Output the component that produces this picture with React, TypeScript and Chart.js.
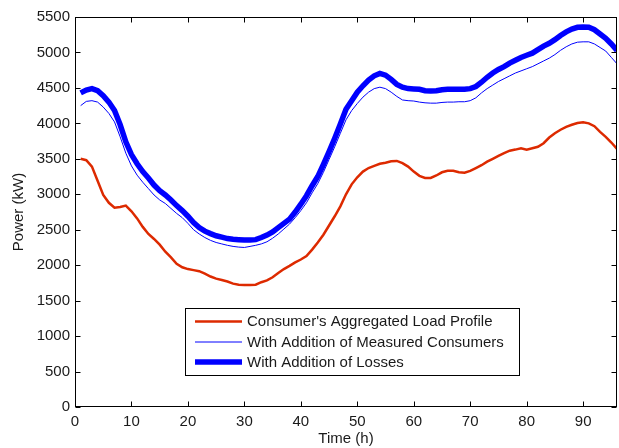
import React, { useEffect, useRef } from "react";
import { Chart, registerables } from "chart.js";

Chart.register(...registerables);

const hours: number[] = Array.from({ length: 96 }, (_, i) => i + 1);

const loadProfile: number[] = [
  3500, 3480, 3390, 3190, 2990, 2880, 2810, 2820, 2840, 2760,
  2660, 2540, 2440, 2370, 2290, 2190, 2110, 2020, 1970, 1945,
  1930, 1915, 1880, 1840, 1810, 1790, 1770, 1740, 1725, 1720,
  1720, 1725, 1760, 1785, 1830, 1890, 1945, 1990, 2040, 2080,
  2130, 2220, 2320, 2430, 2560, 2690, 2830, 3000, 3140, 3240,
  3320, 3370, 3400, 3430, 3445, 3465, 3470, 3440, 3390, 3320,
  3260, 3230, 3230, 3265, 3310, 3330, 3330, 3310, 3305, 3330,
  3370, 3410, 3460, 3500, 3540, 3580, 3615, 3630, 3650, 3630,
  3650, 3670, 3720, 3800, 3860, 3910, 3950, 3980, 4005, 4015,
  4000, 3960, 3880, 3810, 3730, 3640,
];

const withMeasured: number[] = [
  4250, 4310, 4320, 4300, 4230, 4140, 4020, 3810, 3580, 3400,
  3270, 3170, 3080, 2990, 2920, 2870, 2800, 2730, 2670, 2590,
  2500, 2440, 2390, 2350, 2320, 2300, 2280, 2265, 2255, 2250,
  2265, 2280, 2300, 2330, 2380, 2440, 2510, 2580, 2670, 2770,
  2880, 3020, 3150, 3310, 3490, 3670, 3860, 4050, 4180, 4280,
  4370, 4440, 4490, 4510, 4490, 4440, 4380, 4330, 4320, 4315,
  4300, 4290, 4285, 4285, 4295, 4300, 4300, 4305, 4305, 4320,
  4360, 4430, 4490, 4540, 4590, 4630, 4670, 4710, 4740, 4770,
  4800, 4840, 4880, 4920, 4970, 5030, 5080, 5120, 5145, 5150,
  5150, 5120, 5070, 5020, 4930, 4840,
];

const withLosses: number[] = [
  4430, 4470, 4490, 4460, 4390, 4300, 4180, 3980, 3740, 3560,
  3430, 3320, 3230, 3130, 3050, 2990, 2920, 2840, 2770, 2690,
  2600, 2530, 2480, 2445, 2415, 2395, 2375, 2365, 2360, 2355,
  2355, 2360, 2390, 2425, 2470, 2530, 2590, 2650, 2750, 2860,
  2980, 3120, 3250, 3420, 3600, 3790, 3990, 4200, 4320, 4440,
  4530, 4610, 4670, 4705, 4680, 4620, 4550, 4510, 4490, 4485,
  4480, 4460, 4455, 4460, 4475, 4480, 4480, 4480, 4480, 4490,
  4520, 4580, 4650, 4710, 4760, 4800, 4850, 4890, 4930, 4960,
  4990, 5040, 5090, 5130, 5180, 5240, 5290, 5330, 5355, 5360,
  5355, 5320, 5260, 5200, 5120, 5030,
];

const seriesLabels: string[] = [
  "Consumer's Aggregated Load Profile",
  "With Addition of Measured Consumers",
  "With Addition of Losses",
];

const xTitle = "Time (h)";
const yTitle = "Power (kW)";

const FONT = "'Liberation Sans', Arial, sans-serif";
const FS = 15;
const RED = "#dd2a00";
const BLUE = "#0000ff";
const TEXT = "#1a1a1a";

const framePlugin = {
  id: "frameAndLegend",
  afterDraw(chart: any) {
    const { ctx, chartArea: a, scales } = chart;
    const xs = scales.x;
    const ys = scales.y;
    ctx.save();
    ctx.strokeStyle = "#000";
    ctx.lineWidth = 1;
    const L = Math.round(a.left) + 0.5;
    const R = Math.round(a.right) - 0.5;
    const T = Math.round(a.top) + 0.5;
    const B = Math.round(a.bottom) - 0.5;
    ctx.strokeRect(L, T, R - L, B - T);
    const tl = 5;
    ctx.beginPath();
    for (const t of xs.ticks) {
      const px = Math.round(xs.getPixelForValue(t.value)) + 0.5;
      ctx.moveTo(px, B);
      ctx.lineTo(px, B - tl);
      ctx.moveTo(px, T);
      ctx.lineTo(px, T + tl);
    }
    for (const t of ys.ticks) {
      const py = Math.round(ys.getPixelForValue(t.value)) + 0.5;
      ctx.moveTo(L, py);
      ctx.lineTo(L + tl, py);
      ctx.moveTo(R, py);
      ctx.lineTo(R - tl, py);
    }
    ctx.stroke();

    // legend
    const bx = 185.5, by = 308.5, bw = 334, bh = 67;
    ctx.fillStyle = "#fff";
    ctx.fillRect(bx, by, bw, bh);
    ctx.strokeRect(bx, by, bw, bh);
    const rows = [321.5, 342, 362];
    ctx.font = `${FS}px ${FONT}`;
    ctx.textBaseline = "middle";
    ctx.textAlign = "left";
    chart.data.datasets.forEach((ds: any, i: number) => {
      ctx.beginPath();
      ctx.strokeStyle = ds.borderColor;
      ctx.lineWidth = ds.borderWidth;
      ctx.moveTo(195, rows[i]);
      ctx.lineTo(242, rows[i]);
      ctx.stroke();
      ctx.fillStyle = TEXT;
      ctx.fillText(ds.label, 247, rows[i] + 0.5);
    });
    ctx.restore();
  },
};

export default function App() {
  const ref = useRef<HTMLCanvasElement | null>(null);
  useEffect(() => {
    document.body.style.margin = "0";
    const canvas = ref.current;
    if (!canvas) return;
    const chart = new Chart(canvas, {
      type: "line",
      data: {
        labels: hours,
        datasets: [
          {
            label: seriesLabels[0],
            data: hours.map((h, i) => ({ x: h, y: loadProfile[i] })),
            borderColor: RED,
            borderWidth: 2.5,
            pointRadius: 0,
            tension: 0,
          },
          {
            label: seriesLabels[1],
            data: hours.map((h, i) => ({ x: h, y: withMeasured[i] })),
            borderColor: BLUE,
            borderWidth: 1,
            pointRadius: 0,
            tension: 0,
          },
          {
            label: seriesLabels[2],
            data: hours.map((h, i) => ({ x: h, y: withLosses[i] })),
            borderColor: BLUE,
            borderWidth: 5.5,
            pointRadius: 0,
            tension: 0,
          },
        ],
      },
      options: {
        animation: false,
        responsive: false,
        devicePixelRatio: 1,
        layout: { padding: { left: 0, top: 17, right: 2, bottom: 0 } },
        plugins: { legend: { display: false }, tooltip: { enabled: false } },
        scales: {
          x: {
            type: "linear",
            min: 0,
            max: 96,
            grid: { display: false, drawTicks: false },
            border: { display: false },
            ticks: {
              stepSize: 10,
              includeBounds: false,
              autoSkip: false,
              maxRotation: 0,
              padding: 6,
              color: TEXT,
              font: { family: FONT, size: FS },
              callback: (v: any) => String(v),
            },
            title: {
              display: true,
              text: xTitle,
              color: TEXT,
              font: { family: FONT, size: FS },
              padding: { top: 0, bottom: 0 },
            },
            afterFit: (s: any) => {
              s.height = 41;
            },
          },
          y: {
            min: 0,
            max: 5500,
            grid: { display: false, drawTicks: false },
            border: { display: false },
            ticks: {
              stepSize: 500,
              autoSkip: false,
              padding: 5,
              color: TEXT,
              font: { family: FONT, size: FS },
              callback: (v: any) => String(v),
            },
            title: {
              display: true,
              text: yTitle,
              color: TEXT,
              font: { family: FONT, size: FS },
              padding: { top: 10, bottom: 0 },
            },
            afterFit: (s: any) => {
              s.width = 75;
            },
          },
        },
      },
      plugins: [framePlugin],
    });
    return () => chart.destroy();
  }, []);
  return (
    <div style={{ position: "absolute", left: 0, top: 0, width: 619, height: 448, background: "#fff" }}>
      <canvas ref={ref} width={619} height={448} />
    </div>
  );
}
